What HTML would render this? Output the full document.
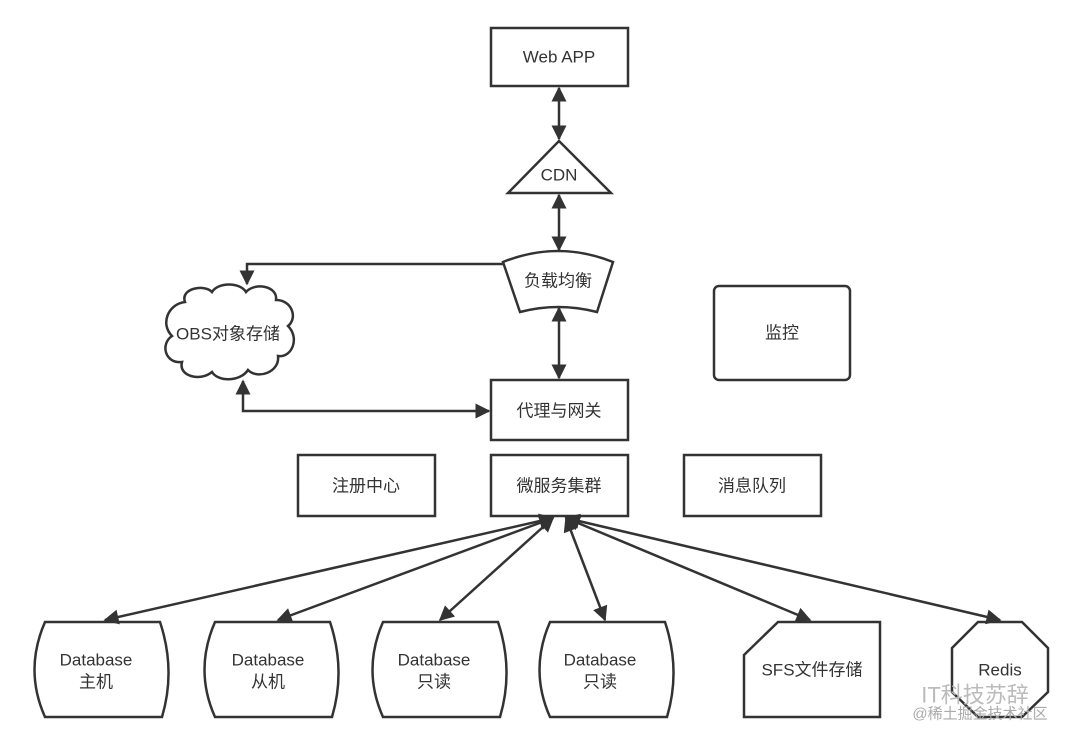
<!DOCTYPE html>
<html><head><meta charset="utf-8"><style>
html,body{margin:0;padding:0;background:#fff;}
svg{display:block;}
text{font-family:"Liberation Sans","Noto Sans CJK SC",sans-serif;font-size:17px;fill:#333;text-anchor:middle;dominant-baseline:central;}
</style></head><body>
<svg width="1080" height="745" viewBox="0 0 1080 745" xmlns="http://www.w3.org/2000/svg">
<defs>
<marker id="a" viewBox="0 0 10 10" refX="9" refY="5" markerWidth="6.5" markerHeight="6" orient="auto-start-reverse" markerUnits="strokeWidth">
<path d="M0,0 L10,5 L0,10 z" fill="#333"/></marker>
</defs>
<g fill="#fff" stroke="#333" stroke-width="2.5">
<rect x="491" y="28" width="137" height="58"/>
<path d="M559,141 L611,193 L508,193 Z"/>
<path d="M503,262 Q558,240 613,262 L597,312 Q558,302 520,312 Z"/>
<rect x="491" y="380" width="137" height="60"/>
<rect x="714" y="286" width="136" height="94" rx="5"/>
<rect x="298" y="455" width="137" height="61"/>
<rect x="491" y="455" width="137" height="61"/>
<rect x="684" y="455" width="137" height="61"/>
<path d="M185,302 C180,288 205,284 212,292 C218,282 240,282 246,292 C255,282 278,286 276,300 C292,300 298,318 288,326 C300,338 292,358 278,356 C280,372 258,380 248,370 C240,382 218,382 212,372 C200,382 178,376 182,362 C165,364 160,344 172,336 C160,324 168,304 185,302 Z"/>
<path d="M45,622 L160,622 Q176,670 162,717 L45,717 Q24,670 45,622 Z"/>
<path d="M215,622 L330,622 Q346,670 332,717 L215,717 Q194,670 215,622 Z"/>
<path d="M383,622 L498,622 Q514,670 500,717 L383,717 Q362,670 383,622 Z"/>
<path d="M550,622 L665,622 Q681,670 667,717 L550,717 Q529,670 550,622 Z"/>
<path d="M778,622 L880,622 L880,717 L744,717 L744,655 Z"/>
<path d="M978,622 L1022,622 L1048,648 L1048,692 L1022,717 L978,717 L952,692 L952,648 Z"/>
</g>
<g stroke="#333" stroke-width="2.5" fill="none" marker-start="url(#a)" marker-end="url(#a)">
<line x1="559" y1="88" x2="559" y2="139"/>
<line x1="559" y1="195" x2="559" y2="250"/>
<line x1="559" y1="308" x2="559" y2="378"/>
<path d="M243,381 L243,411 L489,411"/>
<line x1="553" y1="518" x2="105" y2="620"/>
<line x1="553" y1="518" x2="278" y2="620"/>
<line x1="553" y1="518" x2="440" y2="620"/>
<line x1="566" y1="518" x2="605" y2="620"/>
<line x1="566" y1="518" x2="810" y2="620"/>
<line x1="566" y1="518" x2="1000" y2="620"/>
</g>
<path d="M503,264 L247,264 L247,284" stroke="#333" stroke-width="2.5" fill="none" marker-end="url(#a)"/>
<text x="559" y="57">Web APP</text>
<text x="559" y="175">CDN</text>
<text x="558" y="281">负载均衡</text>
<text x="228" y="334">OBS对象存储</text>
<text x="559" y="411">代理与网关</text>
<text x="782" y="333">监控</text>
<text x="366" y="486">注册中心</text>
<text x="559" y="486">微服务集群</text>
<text x="752" y="486">消息队列</text>
<text x="96" y="660">Database</text><text x="96" y="682">主机</text>
<text x="268" y="660">Database</text><text x="268" y="682">从机</text>
<text x="434" y="660">Database</text><text x="434" y="682">只读</text>
<text x="600" y="660">Database</text><text x="600" y="682">只读</text>
<text x="812" y="670">SFS文件存储</text>
<text x="1000" y="670">Redis</text>
<text x="975" y="695" style="font-size:22px;fill:#bbb">IT科技苏辞</text>
<text x="980" y="714" style="font-size:15px;fill:#aaa">@稀土掘金技术社区</text>
</svg>
</body></html>
